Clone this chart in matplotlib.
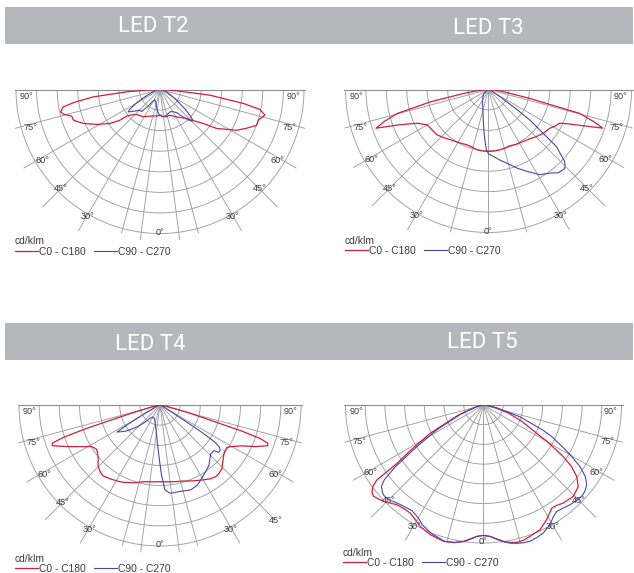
import numpy as np
import matplotlib
matplotlib.use("Agg")
import matplotlib.pyplot as plt
from matplotlib.patches import Rectangle

W, H = 634, 573

# ---------------- data (intensity relative to the outer ring, angle in degrees from nadir) -------------
titles = ["LED T2", "LED T3", "LED T4", "LED T5"]
series_names = ["C0 - C180", "C90 - C270"]
unit_label = "cd/klm"
angle_ticks = [90, 75, 60, 45, 30, 0]

t2_c0_theta = [-90, -88, -86, -83.7, -81.5, -79.8, -77.3, -75.7, -73.2, -70.5, -66.1, -61, -55.8, -52.5, -51.3,
               -49.4, -43, -31.4, -22, -14, -7, 0, 6, 13.7, 20, 26.6, 35.5, 42.6, 45.9, 51.9, 55.5, 62, 66,
               69.7, 72.7, 76.3, 78.7, 80.5, 83.5, 85.4, 88, 90]
t2_c0_r = [0, 0.08, 0.23, 0.466, 0.6, 0.683, 0.707, 0.693, 0.64, 0.638, 0.582, 0.50, 0.42, 0.35, 0.296,
           0.274, 0.237, 0.222, 0.2, 0.19, 0.185, 0.178, 0.19, 0.195, 0.19, 0.207, 0.239, 0.274, 0.306, 0.383,
           0.478, 0.603, 0.66, 0.716, 0.715, 0.75, 0.708, 0.587, 0.35, 0.116, 0.05, 0]
t2_c90_theta = [-90, -80, -70, -64, -60, -57, -55, -52, -48, -44, -40, -36, -32, -27, -20, -14, -8, -3, 0, 4, 8,
                13, 19, 25, 31, 36, 40, 43, 45, 47, 49, 52, 56, 62, 70, 80, 90]
t2_c90_r = [0, 0.02, 0.06, 0.12, 0.19, 0.25, 0.27, 0.25, 0.22, 0.2, 0.2, 0.15, 0.1, 0.08, 0.09, 0.11, 0.145,
            0.17, 0.178, 0.185, 0.19, 0.185, 0.176, 0.17, 0.18, 0.2, 0.25, 0.29, 0.31, 0.31, 0.28, 0.22, 0.15,
            0.09, 0.05, 0.02, 0]

t3_c0_theta = [-90, -85, -81, -78, -75.3, -73, -71, -68.7, -64.6, -60, -54, -48.5, -43, -37, -29, -21, -15,
               -10.9, -5, 0, 5, 10.9, 16, 21, 27, 33.8, 40, 45.6, 51, 57.7, 61, 64.6, 66.5, 68, 70, 71.3, 73,
               75.3, 77.8, 81, 85, 90]
t3_c0_r = [0, 0.06, 0.176, 0.414, 0.658, 0.76, 0.832, 0.683, 0.55, 0.495, 0.485, 0.479, 0.46, 0.441, 0.425,
           0.415, 0.42, 0.429, 0.432, 0.433, 0.432, 0.429, 0.425, 0.421, 0.43, 0.437, 0.45, 0.47, 0.49, 0.507,
           0.53, 0.55, 0.6, 0.66, 0.76, 0.843, 0.77, 0.658, 0.296, 0.12, 0.05, 0]
t3_c90_theta = [-90, -70, -55, -45, -35, -25, -18, -13, -9, -6, -4, -2, 0, 4, 10, 16, 20, 25, 31, 36, 40, 42.5,
                44, 45.5, 46.7, 48, 50, 51.3, 53.6, 55.3, 57.8, 62, 70, 90]
t3_c90_r = [0, 0.01, 0.03, 0.05, 0.07, 0.1, 0.13, 0.17, 0.23, 0.3, 0.36, 0.42, 0.45, 0.469, 0.505, 0.547,
            0.585, 0.631, 0.695, 0.723, 0.76, 0.765, 0.768, 0.75, 0.73, 0.68, 0.62, 0.489, 0.359, 0.211,
            0.096, 0.03, 0.01, 0]

t4_c0_theta = [-90, -80, -76, -74, -73, -72.3, -71.5, -70.5, -69.3, -66.3, -62, -58.8, -55.3, -52, -48, -45.8,
               -42, -38.9, -33.5, -28, -24.9, -18, -12, -6, 0, 6, 12, 16.7, 23, 29.5, 34, 37.7, 41, 44.3, 48,
               51.5, 54, 57.6, 60, 63.4, 66.5, 69.3, 70.5, 71.5, 72.3, 73.3, 75, 78, 90]
t4_c0_r = [0, 0.02, 0.08, 0.2, 0.35, 0.55, 0.72, 0.81, 0.817, 0.733, 0.63, 0.568, 0.549, 0.56, 0.59, 0.614,
           0.635, 0.645, 0.63, 0.615, 0.605, 0.58, 0.556, 0.548, 0.544, 0.548, 0.555, 0.563, 0.585, 0.611,
           0.632, 0.644, 0.64, 0.63, 0.6, 0.577, 0.565, 0.562, 0.59, 0.647, 0.74, 0.817, 0.81, 0.75, 0.608,
           0.362, 0.2, 0.06, 0]
t4_c90_theta = [-90, -75, -65, -61, -59, -57.8, -56, -53, -50, -46, -42, -37, -32, -26, -20, -14, -9, -6, -4,
                -2, 0, 1.3, 3.3, 6.3, 9, 12.8, 16, 20, 25.1, 30.6, 35, 39, 43, 46, 49.7, 51.1, 53, 54.5, 55.9,
                56.8, 57.6, 59, 63, 70, 90]
t4_c90_r = [0, 0.01, 0.04, 0.12, 0.26, 0.36, 0.34, 0.31, 0.27, 0.22, 0.17, 0.12, 0.1, 0.1, 0.11, 0.14, 0.18,
            0.22, 0.27, 0.33, 0.42, 0.5, 0.603, 0.629, 0.63, 0.629, 0.633, 0.64, 0.627, 0.592, 0.57, 0.551,
            0.52, 0.5, 0.5, 0.535, 0.535, 0.52, 0.475, 0.36, 0.19, 0.08, 0.03, 0.01, 0]

t5_c0_theta = [-90, -80, -75, -68, -62, -58, -56, -55.3, -54.9, -53.8, -52.7, -51.5, -50.2, -48, -46, -43.5,
               -40.9, -37.5, -34.1, -31, -27.5, -22.3, -16.3, -12, -8.3, -5, -2.9, 0, 2.9, 5, 8.3, 11, 13.6,
               16.5, 19.5, 24.4, 28.8, 33.5, 36, 39.1, 44.5, 49.3, 52.5, 55, 57.1, 60, 62, 67, 72, 78, 85, 90]
t5_c0_r = [0, 0.02, 0.06, 0.2, 0.44, 0.63, 0.755, 0.86, 0.943, 0.99, 1.014, 1.03, 1.035, 1.02, 1.005, 0.98,
           0.957, 0.947, 0.946, 0.965, 0.992, 1.016, 1.029, 1.02, 0.998, 0.97, 0.953, 0.945, 0.953, 0.97,
           0.998, 1.015, 1.024, 1.022, 1.01, 0.992, 0.949, 0.896, 0.9, 0.916, 0.929, 0.906, 0.851, 0.78,
           0.688, 0.54, 0.437, 0.3, 0.19, 0.08, 0.02, 0]
t5_c90_theta = [-90, -80, -75, -68, -62, -58, -55, -53, -51.5, -49, -47.5, -45, -41, -37, -34, -30, -27, -22,
                -16, -12, -8, -5, -3, 0, 3, 5, 8, 11, 14, 16.5, 19, 22, 25, 29, 32, 34.5, 38, 41, 44, 46, 48,
                50, 52.3, 55, 57.5, 60, 62, 65, 67, 72, 78, 85, 90]
t5_c90_r = [0, 0.02, 0.06, 0.18, 0.38, 0.57, 0.78, 0.9, 0.945, 0.97, 0.975, 0.97, 0.945, 0.93, 0.925, 0.945,
            0.975, 1.005, 1.027, 1.018, 1.0, 0.972, 0.955, 0.945, 0.955, 0.972, 1.0, 1.02, 1.033, 1.04,
            1.043, 1.035, 1.024, 0.992, 0.955, 0.936, 0.945, 0.957, 0.965, 0.97, 0.97, 0.962, 0.945, 0.9,
            0.828, 0.73, 0.65, 0.55, 0.47, 0.28, 0.1, 0.02, 0]

curves = [
    (t2_c0_theta, t2_c0_r, t2_c90_theta, t2_c90_r),
    (t3_c0_theta, t3_c0_r, t3_c90_theta, t3_c90_r),
    (t4_c0_theta, t4_c0_r, t4_c90_theta, t4_c90_r),
    (t5_c0_theta, t5_c0_r, t5_c90_theta, t5_c90_r),
]

# ---------------- layout / style -------------
RED = "#cf1f3f"
BLUE = "#4848a8"
GRID = "#9e9e9e"
BAR = "#b5b7bd"
TXT = "#3a3a3a"
E = 1.2          # axis half-extent (outer ring = 1)
N_RINGS = 7


def to_xy(theta_deg, r):
    t = np.deg2rad(np.asarray(theta_deg, dtype=float))
    r = np.asarray(r, dtype=float)
    return r * np.sin(t), -r * np.cos(t)


panels = [
    dict(cx=160, cy=89.5, R=144, tx=153, ty=27, ly=252, lx=15, extra=[-7.5, 7.5], zero=False, r45=None),
    dict(cx=488.5, cy=89.5, R=143, tx=488, ty=28, ly=251, lx=345, extra=[], zero=True, r45=None),
    dict(cx=160, cy=405, R=141, tx=150, ty=345, ly=569, lx=15, extra=[-7.5, 7.5], zero=False, r45=1.16),
    dict(cx=483.5, cy=405, R=138, tx=482, ty=342, ly=563, lx=343, extra=[], zero=True, r45=None),
]

fig = plt.figure(figsize=(W / 100, H / 100), dpi=100)
fig.patch.set_facecolor("white")

# header bars
for (y0, y1) in [(7, 44), (323, 360)]:
    fig.patches.append(Rectangle((5 / W, 1 - y1 / H), (633 - 5) / W, (y1 - y0) / H,
                                 transform=fig.transFigure, facecolor=BAR, edgecolor="none", zorder=0))

ext_len = {15: 1.03, 30: 1.13, 45: 1.15, 60: 1.09, 75: 1.04}
label_pos = {90: (87.0, 0.925), 75: (73.5, 0.935), 60: (59, 0.955), 45: (45, 0.975), 30: (29.6, 1.015), 0: (0, 0.99)}

for p, title, (a_t, a_r, b_t, b_r) in zip(panels, titles, curves):
    cx, cy, R = p["cx"], p["cy"], p["R"]
    ax = fig.add_axes([(cx - E * R) / W, 1 - (cy + E * R) / H, 2 * E * R / W, E * R / H])
    ax.set_xlim(-E, E)
    ax.set_ylim(-E, 0)
    ax.set_aspect("equal", adjustable="box")
    ax.axis("off")

    # rings
    th = np.linspace(-90, 90, 400)
    for k in range(1, N_RINGS + 1):
        x, y = to_xy(th, np.full_like(th, k / N_RINGS))
        ax.plot(x, y, color=GRID, lw=0.65, zorder=1)
    # radial lines
    for a in [15, 30, 45, 60, 75]:
        for sgn in (-1, 1):
            x, y = to_xy([sgn * a] * 2, [0, ext_len[a]])
            ax.plot(x, y, color=GRID, lw=0.65, zorder=1)
    if p["zero"]:
        x, y = to_xy([0, 0], [0, 1.0])
        ax.plot(x, y, color=GRID, lw=0.65, zorder=1)
    for a in p["extra"]:
        x, y = to_xy([a, a], [0, 1.05])
        ax.plot(x, y, color=GRID, lw=0.65, zorder=1)
    # top horizontal line
    x, y = to_xy([-90, 90], [1.01, 1.01])
    ax.plot(x, y, color="#8c8c8c", lw=0.8, zorder=1, clip_on=False)

    # angle labels
    for a in angle_ticks:
        ang, rr = label_pos[a]
        sides = (1,) if a == 0 else (-1, 1)
        for sgn in sides:
            r_use = rr
            if a == 45 and sgn == 1 and p["r45"] is not None:
                r_use = p["r45"]
            x, y = to_xy(sgn * ang, r_use)
            ax.text(x, y, f"{a}°", ha="center", va="center", fontsize=6.6,
                    color=TXT, family="Liberation Sans", zorder=3, clip_on=False)

    x, y = to_xy(a_t, a_r)
    l1, = ax.plot(x, y, color=RED, lw=0.9, zorder=4)
    x, y = to_xy(b_t, b_r)
    l2, = ax.plot(x, y, color=BLUE, lw=0.8, zorder=4)

    # title
    fig.text(p["tx"] / W, 1 - p["ty"] / H, title, ha="center", va="center", color="white",
             fontsize=16, family="Roboto", fontweight="normal")

    # unit label + legend
    fig.text(p["lx"] / W, 1 - (p["ly"] - 10.5) / H, unit_label, ha="left", va="center",
             fontsize=7.4, color=TXT, family="Liberation Sans")
    ax.legend([l1, l2], series_names, loc="center left", bbox_to_anchor=(p["lx"] / W, 1 - p["ly"] / H),
              bbox_transform=fig.transFigure, ncol=2, frameon=False, borderpad=0, borderaxespad=0,
              handlelength=2.25, handletextpad=0.1, columnspacing=0.75,
              prop={"family": "Liberation Sans", "size": 7.4}, labelcolor=TXT)

fig.savefig("out.png", dpi=100, facecolor="white")
